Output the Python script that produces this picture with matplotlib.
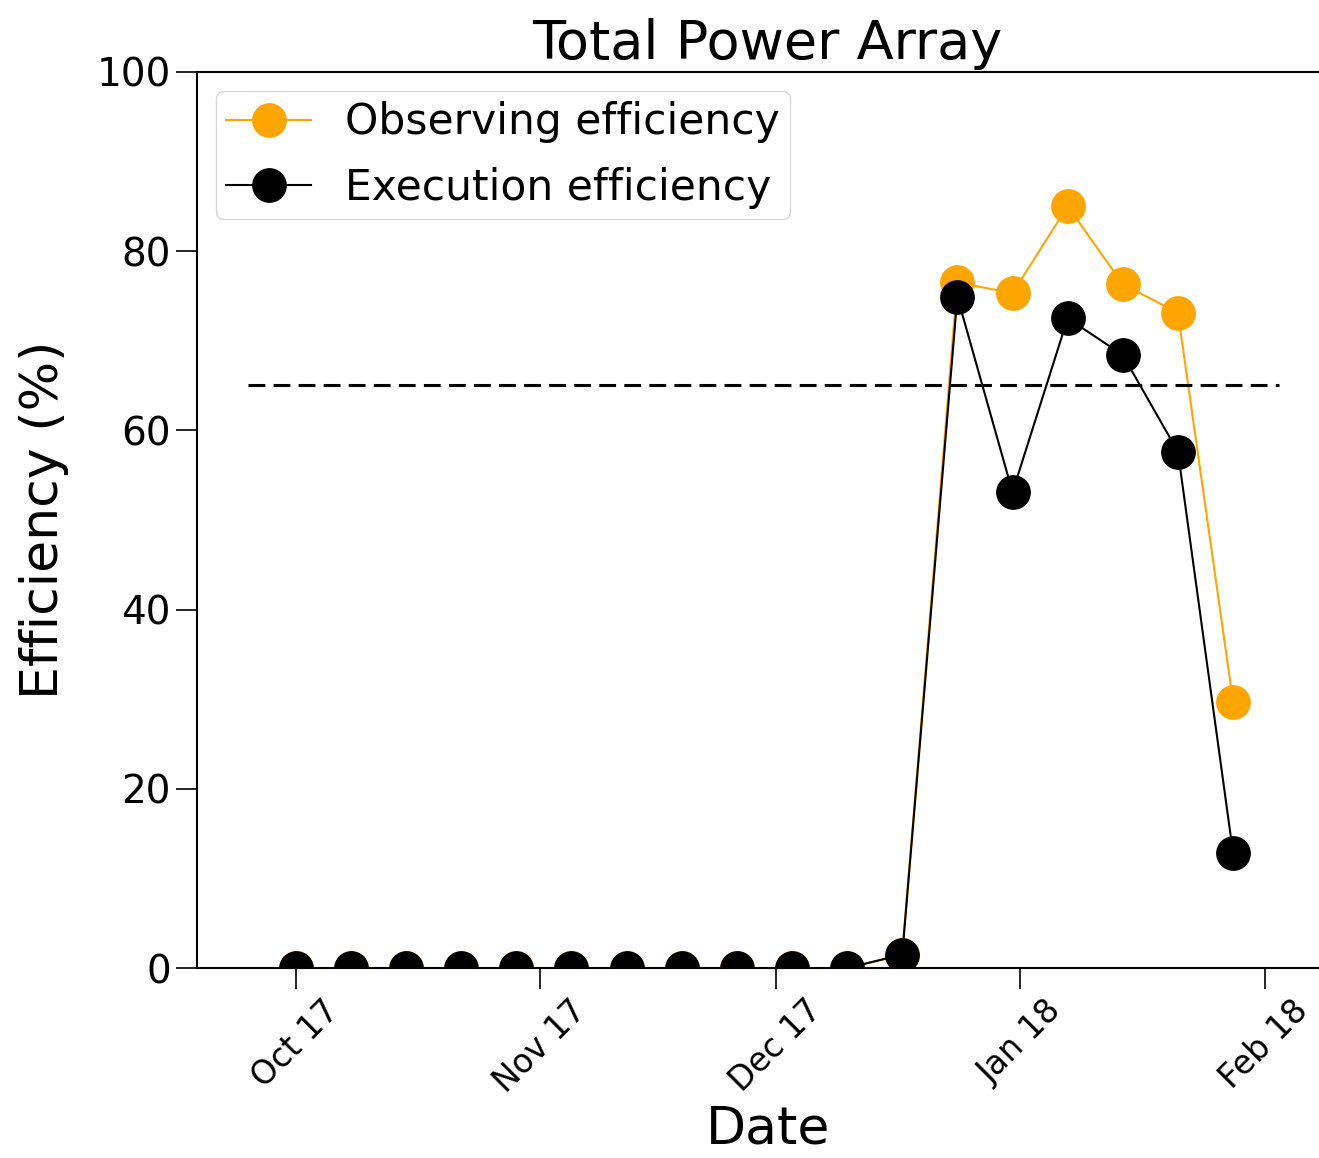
import matplotlib
matplotlib.use('Agg')
import matplotlib.pyplot as plt
import matplotlib.dates as mdates
import numpy as np
import datetime as dt

# weekly dates, Oct 1 2017 - Jan 28 2018
dates = [dt.date(2017, 10, 1) + dt.timedelta(days=7 * i) for i in range(18)]
observing = [0, 0, 0, 0, 0, 0, 0, 0, 0, 0, 0, 1.5, 76.5, 75.3, 85.0, 76.3, 73.1, 29.7]
execution = [0, 0, 0, 0, 0, 0, 0, 0, 0, 0, 0, 1.5, 74.9, 53.1, 72.5, 68.4, 57.6, 12.8]
goal = 65
goal_span = [dt.datetime(2017, 9, 25), dt.datetime(2018, 2, 2, 20)]

fig = plt.figure(figsize=(13.19, 11.58), dpi=100)
ax = fig.add_axes([0.149, 0.164, 0.866, 0.774])

ax.plot(dates, observing, '-o', color='orange', lw=1.5, ms=24, label='Observing efficiency')
ax.plot(dates, execution, '-o', color='black', lw=1.5, ms=24, label='Execution efficiency')
ax.hlines(goal, goal_span[0], goal_span[1], colors='black',
          linestyles=(0, (5.5, 2.7)), lw=2.2)

ax.set_xlim(dt.datetime(2017, 9, 18, 10), dt.datetime(2018, 2, 10, 10))
ax.set_ylim(0, 100)
ax.xaxis.set_major_locator(mdates.MonthLocator())
ax.xaxis.set_major_formatter(mdates.DateFormatter('%b %y'))
ax.set_yticks([0, 20, 40, 60, 80, 100])

ax.tick_params(axis='y', labelsize=28, length=15, width=1.2)
ax.tick_params(axis='x', labelsize=23.5, length=15, width=1.2)
for lbl in ax.get_xticklabels():
    lbl.set_rotation(45)
    lbl.set_ha('center')
    lbl.set_va('top')
ax.spines['right'].set_visible(False)
for s in ['left', 'bottom', 'top']:
    ax.spines[s].set_linewidth(1.5)

ax.set_title('Total Power Array', fontsize=39, pad=9)
ax.set_ylabel('Efficiency (%)', fontsize=37.5, labelpad=20)
ax.set_xlabel('Date', fontsize=37.5, labelpad=4)
ax.legend(loc='upper left', fontsize=30.5, numpoints=1, handlelength=2.0,
          borderaxespad=0.45, labelspacing=0.55, handletextpad=0.8, borderpad=0.25)

fig.savefig('out.png', dpi=100)
